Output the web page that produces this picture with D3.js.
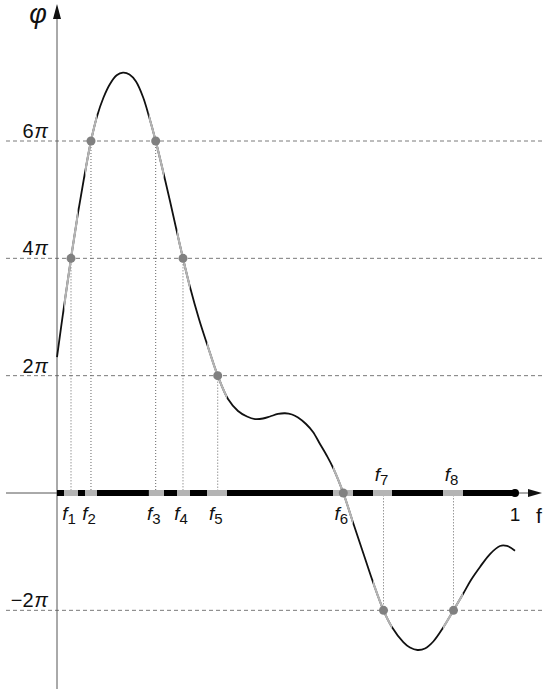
<!DOCTYPE html>
<html><head><meta charset="utf-8">
<script src="https://cdn.jsdelivr.net/npm/d3@7"></script>
<style>html,body{margin:0;padding:0;background:#fff;}svg{display:block;}</style>
</head><body>
<svg id="c" width="544" height="689"></svg>
<script>
// curve samples: f and phase (in units of pi)
const fVals = [0, 0.0153, 0.0306, 0.0459, 0.06, 0.0742, 0.0873, 0.1011, 0.1157, 0.1303, 0.1441, 0.1583, 0.1725, 0.1878, 0.2009, 0.2155, 0.2314, 0.2467, 0.2609, 0.2751, 0.2904, 0.31, 0.3297, 0.3509, 0.3734, 0.3952, 0.4148, 0.4323, 0.4498, 0.4651, 0.4825, 0.4978, 0.5131, 0.5262, 0.5437, 0.559, 0.5742, 0.5895, 0.6033, 0.6251, 0.6469, 0.6688, 0.6906, 0.7129, 0.7308, 0.7561, 0.7707, 0.7871, 0.8035, 0.8216, 0.8435, 0.8657, 0.8865, 0.9039, 0.9236, 0.9454, 0.9672, 0.9825, 1.0];
const phiVals = [2.318, 3.179, 4.0, 4.773, 5.412, 6.0, 6.418, 6.733, 6.972, 7.12, 7.164, 7.134, 7.014, 6.75, 6.418, 6.0, 5.489, 4.977, 4.483, 4.0, 3.511, 2.966, 2.489, 2.0, 1.602, 1.398, 1.304, 1.261, 1.27, 1.304, 1.347, 1.359, 1.338, 1.287, 1.176, 1.04, 0.835, 0.631, 0.421, 0.0, -0.516, -1.028, -1.534, -2.0, -2.279, -2.54, -2.634, -2.676, -2.651, -2.531, -2.289, -2.0, -1.722, -1.483, -1.261, -1.04, -0.903, -0.903, -0.983];
// crossing points f1..f8
const crossF = [0.0306, 0.0742, 0.2155, 0.2751, 0.3509, 0.6251, 0.7129, 0.8657];
const crossPhi = [4, 6, 6, 4, 2, 0, -2, -2];
const crossNames = ["1","2","3","4","5","6","7","8"];
// gray intervals
const grayStart = [0.0153, 0.0611, 0.2005, 0.262, 0.3275, 0.6026, 0.69, 0.8428];
const grayEnd   = [0.0459, 0.0873, 0.2336, 0.2904, 0.3712, 0.6463, 0.7314, 0.8865];
// y ticks (units of pi)
const yTicks = [6, 4, 2, -2];
const yTickLabels = ["6", "4", "2", "\u22122"];

const svg = d3.select("#c");
const x = d3.scaleLinear().domain([0, 1]).range([57, 515]);
const y = d3.scaleLinear().domain([0, 6]).range([493, 141]);
const data = fVals.map((f, i) => ({f, p: phiVals[i]}));
const FONT = "'Liberation Sans', Arial, sans-serif";
const GRAY = "#b4b4b4";

// gridlines
svg.selectAll(".grid").data(yTicks).enter().append("line")
  .attr("x1", 6).attr("x2", 544)
  .attr("y1", d => y(d)).attr("y2", d => y(d))
  .attr("stroke", "#7a7a7a").attr("stroke-width", 1).attr("stroke-dasharray", "4,3");

// tick labels
const tl = svg.selectAll(".tl").data(yTicks).enter().append("text")
  .attr("x", 48).attr("y", d => y(d) - 3)
  .attr("text-anchor", "end").attr("font-family", FONT).attr("font-size", 20).attr("fill", "#111");
tl.append("tspan").text((d, i) => yTickLabels[i]);
tl.append("tspan").attr("font-style", "italic").attr("dx", 1).text("\u03c0");

// vertical dotted lines
svg.selectAll(".vd").data(crossF).enter().append("line")
  .attr("x1", d => x(d)).attr("x2", d => x(d))
  .attr("y1", (d, i) => y(crossPhi[i])).attr("y2", y(0))
  .attr("stroke", "#666").attr("stroke-width", 1).attr("stroke-dasharray", "1,2");

// y axis
svg.append("line").attr("x1", 57).attr("x2", 57).attr("y1", 14).attr("y2", 689)
  .attr("stroke", "#555").attr("stroke-width", 1);
svg.append("path").attr("d", "M57,4 L53,19 L61,19 Z").attr("fill", "#111");

// x axis thin line + arrow
svg.append("line").attr("x1", 6).attr("x2", 534).attr("y1", y(0)).attr("y2", y(0))
  .attr("stroke", "#555").attr("stroke-width", 1);
svg.append("path").attr("d", `M542,${y(0)} L528,${y(0)-4} L528,${y(0)+4} Z`).attr("fill", "#111");

// thick bar
svg.append("line").attr("x1", x(0)).attr("x2", x(1)).attr("y1", y(0)).attr("y2", y(0))
  .attr("stroke", "#000").attr("stroke-width", 6);
svg.selectAll(".gs").data(grayStart).enter().append("line")
  .attr("x1", d => x(d)).attr("x2", (d, i) => x(grayEnd[i]))
  .attr("y1", y(0)).attr("y2", y(0))
  .attr("stroke", GRAY).attr("stroke-width", 6);
svg.append("circle").attr("cx", x(1)).attr("cy", y(0)).attr("r", 4).attr("fill", "#000");

// curve
const line = d3.line().x(d => x(d.f)).y(d => y(d.p)).curve(d3.curveCatmullRom.alpha(0.5));
const defs = svg.append("defs");
const cp = defs.append("clipPath").attr("id", "gclip");
cp.selectAll("rect").data(grayStart).enter().append("rect")
  .attr("x", d => x(d)).attr("width", (d, i) => x(grayEnd[i]) - x(d))
  .attr("y", 0).attr("height", 689);
svg.append("path").datum(data).attr("d", line)
  .attr("fill", "none").attr("stroke", "#111").attr("stroke-width", 1.8);
svg.append("path").datum(data).attr("d", line).attr("clip-path", "url(#gclip)")
  .attr("fill", "none").attr("stroke", GRAY).attr("stroke-width", 2.2);

// crossing dots
svg.selectAll(".dot").data(crossF).enter().append("circle")
  .attr("cx", d => x(d)).attr("cy", (d, i) => y(crossPhi[i])).attr("r", 4.5)
  .attr("fill", "#808080");

// f labels
const fl = svg.selectAll(".fl").data(crossF).enter().append("text")
  .attr("x", d => x(d) - 2)
  .attr("y", (d, i) => crossPhi[i] < 0 ? 481 : 520)
  .attr("text-anchor", "middle").attr("font-family", FONT).attr("font-size", 19).attr("fill", "#111");
fl.append("tspan").attr("font-style", "italic").text("f");
fl.append("tspan").attr("font-size", 15).attr("dy", 4).text((d, i) => crossNames[i]);

// "1" and "f" axis labels
svg.append("text").attr("x", x(1)).attr("y", 521).attr("text-anchor", "middle")
  .attr("font-family", FONT).attr("font-size", 19).attr("fill", "#111").text("1");
svg.append("text").attr("x", 539).attr("y", 523).attr("text-anchor", "middle")
  .attr("font-family", FONT).attr("font-size", 21).attr("fill", "#111").text("f");
// phi label
svg.append("text").attr("x", 38).attr("y", 23).attr("text-anchor", "middle")
  .attr("font-family", FONT).attr("font-style", "italic").attr("font-size", 27).attr("fill", "#111").text("\u03c6");
</script>
</body></html>
